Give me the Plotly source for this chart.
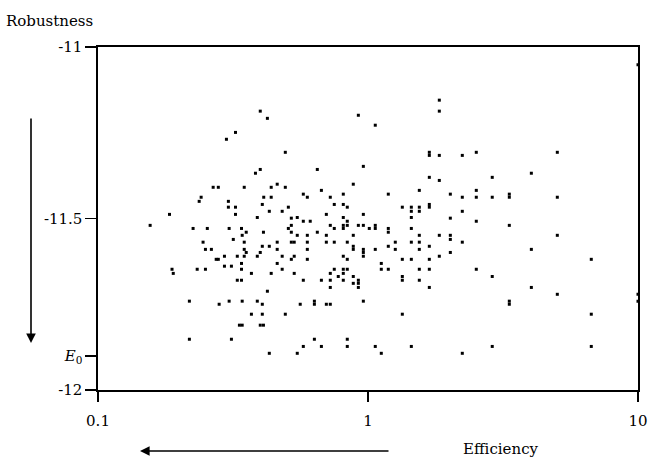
import plotly.graph_objects as go

# Efficiency (x, log scale) and Robustness (y)
efficiency = [
    0.399, 0.323, 0.299, 0.399, 0.383, 0.267, 0.279, 0.348, 0.241, 0.237,
    0.411, 0.304, 0.406, 0.304, 0.323, 0.184, 0.323, 0.389, 0.156, 0.225,
    0.254, 0.306, 0.340, 0.354, 0.410, 0.342, 0.317, 0.245, 0.348, 0.406,
    0.250, 0.263, 0.348, 0.354, 0.399, 0.294, 0.328, 0.348, 0.389, 0.274,
    0.279, 0.340, 0.294, 0.312, 0.188, 0.190, 0.233, 0.250, 0.340, 0.370,
    0.328, 0.340, 0.218, 0.281, 0.306, 0.342, 0.389, 0.406, 0.370, 0.406,
    0.334, 0.342, 0.399, 0.410, 0.218, 0.312,
    0.424, 0.921, 1.064, 0.494, 0.649, 0.961, 0.461, 0.438, 0.494, 0.882,
    0.672, 0.576, 0.596, 0.810, 1.189, 0.438, 0.725, 0.750, 0.810, 0.838,
    0.507, 0.431, 0.481, 0.701, 0.961, 0.520, 0.547, 0.810, 0.576, 0.611,
    0.838, 0.520, 0.725, 0.810, 0.838, 0.921, 0.961, 1.064, 0.507, 0.750,
    0.810, 1.011, 1.064, 1.189,
    0.520, 0.547, 0.596, 0.649, 0.701, 0.882, 1.189, 0.461, 0.520, 0.533,
    0.596, 0.701, 0.750, 0.838, 0.431, 0.461, 0.596, 0.882, 0.882, 0.961,
    0.961, 1.064, 1.189, 0.481, 0.533, 0.520, 0.596, 0.810, 0.838, 0.961,
    0.461, 1.120, 0.481, 0.750, 0.810, 0.838, 1.120, 1.189, 0.438, 0.533,
    0.725, 0.810, 0.776, 0.882, 0.576, 0.672, 0.725, 0.810, 0.921, 0.921,
    0.882, 0.725, 0.921, 0.424, 0.961, 0.561, 0.633, 0.633, 0.701, 0.725,
    0.494, 0.633, 0.838, 0.576, 0.672, 0.838, 1.064, 0.431, 0.547, 1.120,
    1.837, 1.837, 1.687, 1.687, 1.837, 2.235, 2.518, 1.687, 1.837, 2.885,
    1.549, 2.518, 2.018, 2.235, 2.518, 2.885, 3.337, 3.337, 1.340, 1.447,
    1.447, 1.549, 1.549, 1.687, 1.687, 2.235, 1.447, 2.018, 2.518, 1.447,
    3.337,
    1.549, 1.837, 2.018, 2.018, 1.262, 1.447, 1.549, 2.235, 1.687, 1.262,
    1.549, 2.018, 1.837, 1.340, 1.447, 1.687, 1.549, 1.687, 2.518, 1.340,
    1.340, 1.549, 2.885, 1.687, 3.337, 3.337, 1.340, 1.447, 2.885, 2.235,
    5.025, 4.027, 5.025, 5.025, 4.027, 6.714, 4.027, 5.025, 6.714, 6.714,
    10.0, 10.0, 10.0,
]
robustness = [
    -11.187, -11.249, -11.269, -11.357, -11.368, -11.409, -11.409, -11.409, -11.438, -11.450,
    -11.438, -11.450, -11.459, -11.467, -11.467, -11.488, -11.488, -11.497, -11.520, -11.529,
    -11.529, -11.529, -11.529, -11.540, -11.540, -11.549, -11.561, -11.569, -11.569, -11.581,
    -11.590, -11.590, -11.590, -11.599, -11.599, -11.610, -11.610, -11.610, -11.610, -11.619,
    -11.619, -11.631, -11.639, -11.639, -11.648, -11.660, -11.648, -11.648, -11.648, -11.660,
    -11.680, -11.680, -11.741, -11.750, -11.741, -11.741, -11.741, -11.750, -11.779, -11.779,
    -11.811, -11.811, -11.811, -11.811, -11.852, -11.852,
    -11.208, -11.199, -11.228, -11.307, -11.357, -11.348, -11.400, -11.409, -11.409, -11.400,
    -11.418, -11.429, -11.438, -11.429, -11.429, -11.438, -11.438, -11.459, -11.459, -11.467,
    -11.467, -11.479, -11.479, -11.488, -11.488, -11.499, -11.497, -11.497, -11.508, -11.508,
    -11.508, -11.520, -11.520, -11.520, -11.520, -11.520, -11.520, -11.520, -11.529, -11.529,
    -11.529, -11.529, -11.529, -11.529,
    -11.540, -11.549, -11.549, -11.540, -11.549, -11.549, -11.540, -11.569, -11.569, -11.569,
    -11.569, -11.569, -11.569, -11.569, -11.581, -11.590, -11.590, -11.581, -11.590, -11.590,
    -11.599, -11.590, -11.581, -11.610, -11.610, -11.619, -11.619, -11.610, -11.619, -11.610,
    -11.631, -11.631, -11.648, -11.648, -11.648, -11.648, -11.648, -11.648, -11.660, -11.660,
    -11.660, -11.660, -11.669, -11.669, -11.680, -11.680, -11.680, -11.680, -11.680, -11.689,
    -11.689, -11.701, -11.701, -11.712, -11.741, -11.750, -11.741, -11.750, -11.750, -11.750,
    -11.779, -11.852, -11.852, -11.873, -11.873, -11.873, -11.873, -11.893, -11.893, -11.893,
    -11.155, -11.187, -11.307, -11.316, -11.316, -11.316, -11.307, -11.380, -11.389, -11.380,
    -11.418, -11.418, -11.429, -11.438, -11.438, -11.438, -11.429, -11.438, -11.467, -11.467,
    -11.479, -11.467, -11.479, -11.459, -11.467, -11.479, -11.497, -11.499, -11.508, -11.529,
    -11.520,
    -11.549, -11.549, -11.549, -11.561, -11.569, -11.569, -11.569, -11.569, -11.581, -11.590,
    -11.590, -11.599, -11.610, -11.619, -11.619, -11.619, -11.648, -11.648, -11.648, -11.669,
    -11.680, -11.680, -11.669, -11.701, -11.741, -11.750, -11.779, -11.873, -11.873, -11.893,
    -11.307, -11.368, -11.438, -11.549, -11.590, -11.619, -11.701, -11.721, -11.779, -11.873,
    -11.052, -11.721, -11.741,
]

x_tickvals = [0.1, 1, 10]
x_ticktext = ["0.1", "1", "10"]
y_tickvals = [-12, -11.9, -11.5, -11]
y_ticktext = ["-12", "<i>E</i><sub>0</sub>", "-11.5", "-11"]

FONT = "DejaVu Serif"
FSIZE = 15

fig = go.Figure()
fig.add_trace(go.Scatter(
    x=efficiency, y=robustness, mode="markers",
    marker=dict(symbol="square", size=3, color="black", line=dict(width=0)),
    showlegend=False, hoverinfo="skip",
))

L, R, T, B = 98, 14, 47, 78
W, H = 652, 468
pw, ph = W - L - R, H - T - B

fig.update_layout(
    width=W, height=H,
    margin=dict(l=L, r=R, t=T, b=B, pad=0, autoexpand=False),
    paper_bgcolor="white", plot_bgcolor="white",
    font=dict(family=FONT, size=FSIZE, color="black"),
)
fig.update_xaxes(
    type="log", range=[-1, 1], tickvals=x_tickvals, ticktext=x_ticktext,
    showline=True, mirror=True, linecolor="black", linewidth=1.6,
    ticks="outside", ticklen=10, tickwidth=1.6, tickcolor="black",
    ticklabelstandoff=6,
    showgrid=False, zeroline=False, automargin=False,
)
fig.update_yaxes(
    range=[-12, -11], tickvals=y_tickvals, ticktext=y_ticktext,
    showline=True, mirror=True, linecolor="black", linewidth=1.6,
    ticks="outside", ticklen=11, tickwidth=1.6, tickcolor="black",
    showgrid=False, zeroline=False, automargin=False,
)

def px_x(p):
    return (p - L) / pw

def px_y(p):
    return (H - B - p) / ph

fig.add_annotation(
    x=px_x(4), y=px_y(21), xref="paper", yref="paper",
    text="Robustness", showarrow=False, xanchor="left", yanchor="middle",
    font=dict(family=FONT, size=FSIZE),
)
fig.add_annotation(
    x=px_x(501), y=px_y(449), xref="paper", yref="paper",
    text="Efficiency", showarrow=False, xanchor="center", yanchor="middle",
    font=dict(family=FONT, size=FSIZE),
)
# vertical arrow (downwards)
fig.add_annotation(
    x=px_x(31), y=px_y(343), xref="paper", yref="paper",
    ax=0, ay=-226, text="", showarrow=True,
    arrowhead=2, arrowsize=1.2, arrowwidth=1.6, arrowcolor="black",
)
# horizontal arrow (leftwards)
fig.add_annotation(
    x=px_x(140), y=px_y(451), xref="paper", yref="paper",
    ax=250, ay=0, text="", showarrow=True,
    arrowhead=2, arrowsize=1.2, arrowwidth=1.6, arrowcolor="black",
)

fig.write_html(
    "out.html",
    config={"displayModeBar": False, "staticPlot": True},
    post_script="document.body.style.margin='0';document.body.style.padding='0';",
)
